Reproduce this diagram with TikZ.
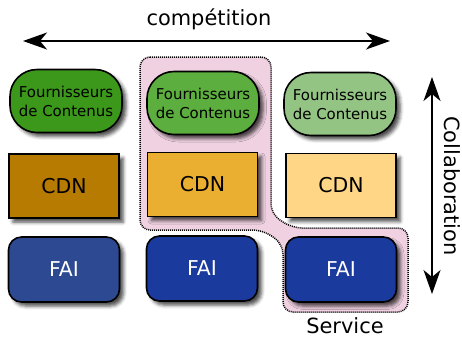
\documentclass[tikz,border=0pt]{standalone}
\usepackage{fontspec}
\setmainfont{DejaVu Sans}
\usetikzlibrary{arrows.meta,shadows.blur}
\definecolor{fA}{RGB}{60,152,27}
\definecolor{fB}{RGB}{92,174,62}
\definecolor{fC}{RGB}{148,196,132}
\definecolor{cA}{RGB}{184,123,2}
\definecolor{cB}{RGB}{234,174,48}
\definecolor{cC}{RGB}{254,214,134}
\definecolor{aA}{RGB}{44,73,146}
\definecolor{aB}{RGB}{27,58,157}
\definecolor{pinkzone}{RGB}{240,209,225}
\begin{document}
\begin{tikzpicture}[x=1bp,y=-1bp,
  box/.style={draw=black, line width=1.6bp,
    blur shadow={shadow xshift=4bp, shadow yshift=-4bp, shadow blur radius=3.5bp, shadow opacity=70},
    inner sep=0pt, align=center, font=\fontsize{20.5}{24}\selectfont},
  fourn/.style={box, rounded corners=27bp, minimum width=112bp, minimum height=63bp,
    font=\fontsize{15}{19}\selectfont},
  cdn/.style={box, minimum width=110bp, minimum height=64bp},
  fai/.style={box, rounded corners=13bp, minimum width=111bp, minimum height=65bp, text=white},
  lbl/.style={inner sep=0pt, font=\fontsize{21}{24}\selectfont},
  arr/.style={line width=1.5bp, {Stealth[length=24bp,width=17bp,inset=7bp]}-{Stealth[length=24bp,width=17bp,inset=7bp]}},
  zone/.style={fill=pinkzone, draw=black, dash pattern=on 1bp off 1bp, line width=1.5bp, rounded corners=10bp}
]
\useasboundingbox (0,0) rectangle (462,340);

\draw[zone] (140,57) -- (271,57) -- (271,214) -- (292,228) -- (408,228) -- (408,312)
  -- (283,312) -- (283,244) -- (263,230) -- (140,230) -- cycle;

\node[fourn, fill=fA] (f1) at (66,101) {Fournisseurs\\de Contenus};
\node[fourn, fill=fB] (f2) at (203,103) {Fournisseurs\\de Contenus};
\node[fourn, fill=fC] (f3) at (340,104) {Fournisseurs\\de Contenus};

\node[cdn, fill=cA] (c1) at (64,186) {CDN};
\node[cdn, fill=cB] (c2) at (202.5,184.5) {CDN};
\node[cdn, fill=cC] (c3) at (341,185.5) {CDN};

\node[fai, fill=aA] (a1) at (64,269.5) {FAI};
\node[fai, fill=aB] (a2) at (202,268.5) {FAI};
\node[fai, fill=aB] (a3) at (341,269.5) {FAI};

\node[lbl] (comp) at (209,19) {compétition};
\coordinate (cl) at (23,41);
\coordinate (cr) at (390,41);
\draw[arr] (cl) -- (cr);

\coordinate (vt) at (432,77);
\coordinate (vb) at (432,294);
\draw[arr] (vt) -- (vb);
\node[lbl, rotate=-90] (collab) at (452,186) {Collaboration};

\node[lbl] (serv) at (345,326) {Service};
\end{tikzpicture}
\end{document}
